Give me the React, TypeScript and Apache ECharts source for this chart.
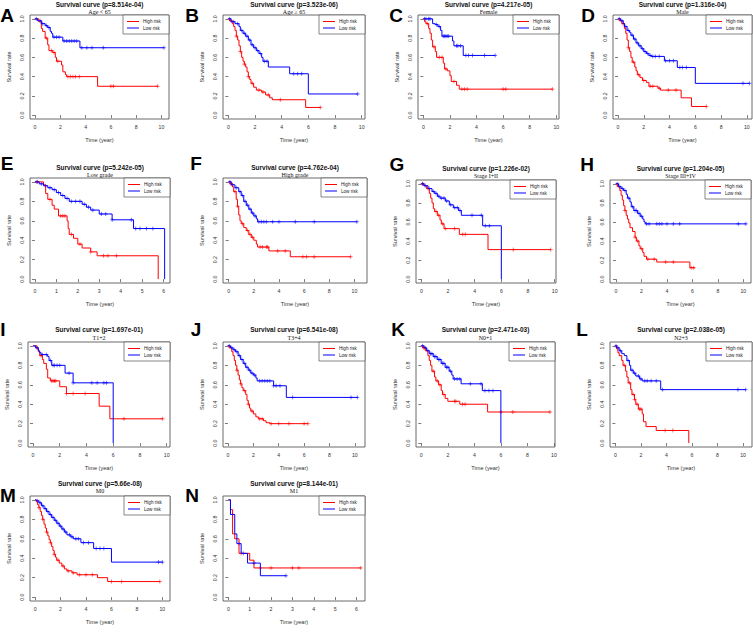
import { useEffect, useRef } from "react";
import * as echarts from "echarts";

// ---------- tick labels ----------
const timeTicks10 = [0, 2, 4, 6, 8, 10];
const timeTicks6 = [0, 1, 2, 3, 4, 5, 6];
const survTicks = [0, 0.2, 0.4, 0.6, 0.8, 1.0];

// ---------- panel texts ----------
const letters = ["A", "B", "C", "D", "E", "F", "G", "H", "I", "J", "K", "L", "M", "N"];
const pValues = ["8.514e-04", "3.523e-06", "4.217e-05", "1.316e-04", "5.242e-05", "4.762e-04", "1.226e-02", "1.204e-05", "1.697e-01", "6.541e-08", "2.471e-03", "2.038e-05", "5.66e-08", "8.144e-01"];
const subtitles = ["Age < 65", "Age \u2265 65", "Female", "Male", "Low grade", "High grade", "Stage I+II", "Stage III+IV", "T1+2", "T3+4", "N0+1", "N2+3", "M0", "M1"];
const groups = ["High risk", "Low risk"];

// ---------- survival curves: [time, survival] at each step ----------
const aHigh = [[0,1],[0.3,0.97],[0.5,0.9],[0.6,0.87],[0.8,0.8],[1.0,0.73],[1.1,0.67],[1.4,0.65],[1.6,0.6],[1.7,0.56],[2.1,0.52],[2.2,0.45],[2.4,0.42],[2.5,0.4],[4.95,0.3],[9.7,0.3]];
const aHighCens = [0.9,1.3,1.5,1.8,2.6,2.8,3.0,3.2,3.5,6.0,6.2,9.7];
const aLow = [[0,1],[0.2,0.98],[0.5,0.95],[0.8,0.93],[1.0,0.91],[1.2,0.87],[1.3,0.85],[1.4,0.81],[2.2,0.77],[3.55,0.7],[10.2,0.7]];
const aLowCens = [0.1,0.4,0.6,0.9,1.1,1.5,1.7,1.9,2.3,2.5,2.7,2.9,3.1,3.3,3.7,4.1,4.5,5.4,10.2];

const bHigh = [[0,1],[0.1,0.98],[0.3,0.95],[0.4,0.92],[0.5,0.88],[0.6,0.82],[0.7,0.78],[0.8,0.72],[0.9,0.66],[1.0,0.6],[1.1,0.56],[1.2,0.53],[1.3,0.5],[1.4,0.45],[1.5,0.4],[1.6,0.37],[1.7,0.33],[1.9,0.29],[2.1,0.26],[2.5,0.24],[2.8,0.21],[3.1,0.18],[3.3,0.16],[5.8,0.08],[6.9,0.08]];
const bHighCens = [0.2,0.6,0.9,1.2,1.5,1.8,2.3,2.6,3.0,3.9,6.9];
const bLow = [[0,1],[0.2,0.97],[0.5,0.95],[0.8,0.92],[0.9,0.88],[1.1,0.85],[1.3,0.82],[1.5,0.78],[1.7,0.73],[1.9,0.7],[2.1,0.67],[2.3,0.64],[2.5,0.6],[2.6,0.56],[3.0,0.5],[4.6,0.43],[6.0,0.22],[9.7,0.22]];
const bLowCens = [0.1,0.4,0.7,1.0,1.2,1.4,1.6,1.8,2.0,2.2,2.4,2.7,2.9,4.9,5.2,5.5,9.7];

const cHigh = [[0,1],[0.1,0.97],[0.2,0.95],[0.4,0.9],[0.5,0.85],[0.6,0.78],[0.7,0.71],[0.9,0.66],[1.0,0.6],[1.5,0.54],[1.6,0.48],[1.8,0.46],[2.0,0.41],[2.1,0.35],[2.5,0.31],[2.7,0.27],[9.7,0.27]];
const cHighCens = [0.3,0.8,1.2,1.4,1.7,2.3,2.9,3.1,3.3,6.0,6.2,9.7];
const cLow = [[0,1],[0.7,0.95],[0.9,0.94],[1.1,0.92],[1.3,0.88],[1.4,0.82],[2.2,0.77],[2.3,0.72],[3.0,0.62],[5.4,0.62]];
const cLowCens = [0.1,0.2,0.4,0.5,1.0,1.2,1.5,1.6,1.7,1.8,1.9,2.5,2.6,2.8,3.2,3.4,3.7,4.6,5.4];

const dHigh = [[0,1],[0.1,0.98],[0.3,0.95],[0.5,0.9],[0.6,0.85],[0.7,0.78],[0.8,0.7],[0.9,0.66],[1.0,0.6],[1.1,0.55],[1.3,0.5],[1.4,0.46],[1.5,0.42],[1.7,0.39],[1.9,0.36],[2.2,0.34],[2.4,0.3],[3.1,0.28],[3.3,0.26],[4.9,0.18],[5.7,0.09],[6.85,0.09]];
const dHighCens = [0.4,0.8,1.2,1.6,2.0,2.5,2.7,3.2,3.9,4.5,6.85];
const dLow = [[0,1],[0.2,0.98],[0.4,0.95],[0.5,0.92],[0.7,0.88],[0.9,0.86],[1.0,0.83],[1.2,0.79],[1.4,0.75],[1.6,0.72],[1.8,0.69],[2.0,0.66],[2.2,0.64],[2.4,0.62],[2.6,0.61],[3.6,0.565],[4.6,0.495],[6.0,0.33],[10.2,0.33]];
const dLowCens = [0.1,0.3,0.6,0.8,1.1,1.3,1.5,1.7,1.9,2.1,2.3,2.5,2.7,2.9,3.2,3.7,4.0,4.3,4.8,5.0,5.3,9.7,10.2];

const eHigh = [[0,1],[0.4,0.97],[0.5,0.88],[0.6,0.82],[0.8,0.76],[0.9,0.72],[1.1,0.65],[1.5,0.6],[1.55,0.52],[1.6,0.46],[1.8,0.42],[2.0,0.36],[2.2,0.32],[2.6,0.28],[2.9,0.24],[5.75,0]];
const eHighCens = [0.1,0.7,1.2,1.3,1.4,1.7,2.1,2.6,3.2,3.4,3.8];
const eLow = [[0,1],[0.2,0.98],[0.4,0.96],[0.6,0.94],[0.8,0.92],[1.0,0.89],[1.2,0.86],[1.4,0.83],[1.6,0.8],[2.2,0.77],[2.4,0.74],[2.6,0.71],[3.0,0.67],[3.6,0.61],[4.6,0.52],[6.05,0]];
const eLowCens = [0.1,0.3,0.5,0.7,0.9,1.1,1.3,1.5,1.7,1.9,2.1,2.3,2.5,2.7,3.1,3.3,3.6,4.5,4.7,4.9,5.2,5.5];

const fHigh = [[0,1],[0.1,0.98],[0.3,0.95],[0.4,0.9],[0.6,0.82],[0.7,0.75],[0.8,0.66],[0.9,0.6],[1.0,0.57],[1.2,0.53],[1.4,0.5],[1.6,0.46],[1.8,0.43],[2.0,0.4],[2.2,0.36],[2.3,0.33],[3.2,0.29],[4.9,0.23],[9.7,0.23]];
const fHighCens = [0.2,0.5,0.7,1.1,1.5,1.7,1.9,2.5,2.7,3.0,3.1,3.9,4.5,5.9,6.2,6.8,9.7];
const fLow = [[0,1],[0.2,0.97],[0.5,0.94],[0.8,0.9],[1.0,0.86],[1.2,0.8],[1.4,0.76],[1.6,0.72],[1.8,0.68],[2.0,0.65],[2.2,0.62],[2.3,0.59],[10.2,0.59]];
const fLowCens = [0.1,0.3,0.6,0.9,1.1,1.3,1.5,1.7,1.9,2.1,2.4,2.6,2.8,3.0,3.5,4.0,5.3,6.8,10.2];

const gHigh = [[0,1],[0.2,0.98],[0.4,0.95],[0.6,0.9],[0.7,0.85],[0.8,0.8],[0.9,0.74],[1.0,0.71],[1.2,0.67],[1.4,0.62],[1.5,0.58],[1.7,0.53],[2.85,0.47],[5.0,0.31],[9.7,0.31]];
const gHighCens = [0.1,0.5,1.1,1.3,1.6,1.8,2.5,3.1,3.3,6.9,9.7];
const gLow = [[0,1],[0.2,0.98],[0.5,0.95],[0.8,0.92],[1.0,0.9],[1.2,0.87],[1.4,0.85],[1.8,0.82],[2.1,0.78],[2.4,0.75],[2.8,0.72],[3.0,0.67],[4.6,0.56],[6.0,0]];
const gLowCens = [0.1,0.3,0.6,0.9,1.1,1.3,1.5,1.7,1.9,2.2,2.5,2.7,2.9,3.8,4.5,4.8,5.1];

const hHigh = [[0,1],[0.1,0.97],[0.3,0.93],[0.4,0.88],[0.5,0.83],[0.6,0.77],[0.7,0.72],[0.8,0.67],[0.9,0.63],[1.0,0.59],[1.1,0.54],[1.3,0.5],[1.5,0.44],[1.6,0.4],[1.8,0.35],[1.9,0.32],[2.1,0.28],[2.2,0.24],[2.4,0.21],[3.2,0.18],[5.8,0.12],[6.2,0.12]];
const hHighCens = [0.7,1.5,1.7,2.0,2.5,3.0,3.9,4.5,5.9,6.1];
const hLow = [[0,1],[0.2,0.97],[0.4,0.95],[0.6,0.93],[0.8,0.89],[0.9,0.85],[1.1,0.81],[1.2,0.76],[1.4,0.72],[1.7,0.69],[1.9,0.66],[2.1,0.63],[2.2,0.6],[2.3,0.58],[10.2,0.58]];
const hLowCens = [0.1,0.3,0.5,0.7,1.0,1.3,1.5,1.6,1.8,2.0,2.4,2.6,3.2,3.4,3.6,4.0,4.5,5.0,9.6,10.2];

const iHigh = [[0,1],[0.3,0.97],[0.4,0.94],[0.5,0.9],[0.7,0.86],[0.8,0.82],[1.0,0.76],[1.1,0.67],[1.3,0.64],[2.0,0.58],[2.5,0.51],[4.95,0.38],[5.75,0.25],[9.7,0.25]];
const iHighCens = [0.6,1.4,1.5,1.6,1.7,2.5,3.0,3.9,6.8,9.7];
const iLow = [[0,1],[0.2,0.98],[0.4,0.95],[0.5,0.93],[0.6,0.91],[1.1,0.89],[1.2,0.85],[1.4,0.8],[2.4,0.72],[3.0,0.62],[6.0,0]];
const iLowCens = [0.3,0.7,1.0,1.3,1.5,1.6,1.8,2.0,2.7,3.0,4.4,4.8,5.3,5.5];

const jHigh = [[0,1],[0.1,0.98],[0.3,0.94],[0.4,0.9],[0.5,0.85],[0.6,0.8],[0.7,0.75],[0.8,0.7],[0.9,0.65],[1.0,0.61],[1.1,0.57],[1.2,0.54],[1.4,0.5],[1.5,0.44],[1.6,0.4],[1.7,0.36],[1.8,0.33],[2.0,0.3],[2.2,0.27],[2.4,0.25],[2.8,0.23],[3.0,0.21],[3.3,0.2],[6.3,0.2]];
const jHighCens = [0.7,1.0,1.3,1.6,1.9,2.5,2.7,3.4,4.0,4.8,6.0,6.3];
const jLow = [[0,1],[0.2,0.98],[0.4,0.96],[0.6,0.94],[0.8,0.9],[1.0,0.86],[1.2,0.82],[1.4,0.78],[1.6,0.75],[1.8,0.72],[2.0,0.7],[2.2,0.67],[2.3,0.64],[3.6,0.59],[4.6,0.47],[10.2,0.47]];
const jLowCens = [0.1,0.3,0.5,0.7,0.9,1.1,1.3,1.5,1.7,1.9,2.1,2.5,2.7,2.9,3.1,3.3,3.6,3.8,4.1,5.1,9.7,10.2];

const kHigh = [[0,1],[0.1,0.98],[0.3,0.95],[0.5,0.9],[0.6,0.85],[0.7,0.8],[0.8,0.74],[1.0,0.68],[1.1,0.64],[1.3,0.6],[1.5,0.54],[1.6,0.5],[1.8,0.46],[2.0,0.43],[2.9,0.4],[5.0,0.32],[9.7,0.32]];
const kHighCens = [0.2,0.9,1.2,1.4,1.7,2.5,2.6,3.1,3.3,6.0,6.9,9.7];
const kLow = [[0,1],[0.2,0.98],[0.4,0.95],[0.6,0.92],[0.9,0.89],[1.2,0.86],[1.5,0.82],[1.8,0.78],[2.1,0.74],[2.3,0.7],[2.4,0.66],[3.0,0.61],[4.6,0.54],[6.0,0]];
const kLowCens = [0.1,0.3,0.5,0.7,0.8,1.0,1.1,1.3,1.4,1.6,1.7,1.9,2.0,2.2,2.5,2.7,2.9,3.7,4.5,4.8,5.1,5.4];

const lHigh = [[0,1],[0.1,0.97],[0.2,0.93],[0.3,0.9],[0.5,0.85],[0.6,0.8],[0.8,0.74],[0.9,0.68],[1.0,0.62],[1.2,0.55],[1.3,0.5],[1.5,0.45],[1.6,0.4],[1.8,0.35],[2.1,0.3],[2.2,0.22],[2.4,0.17],[3.2,0.13],[5.75,0]];
const lHighCens = [0.7,1.1,1.4,1.5,1.7,1.9,2.0,3.9,4.5];
const lLow = [[0,1],[0.1,0.98],[0.3,0.95],[0.5,0.92],[0.7,0.9],[0.9,0.85],[1.1,0.8],[1.2,0.75],[1.4,0.72],[1.6,0.69],[1.9,0.66],[2.1,0.64],[3.55,0.55],[10.2,0.55]];
const lLowCens = [0.05,0.2,0.4,1.0,1.3,1.5,1.8,2.0,2.3,2.5,2.8,3.2,3.7,9.6,10.2];

const mHigh = [[0,1],[0.1,0.98],[0.2,0.95],[0.3,0.92],[0.4,0.88],[0.5,0.84],[0.6,0.8],[0.7,0.75],[0.8,0.71],[0.9,0.67],[1.0,0.63],[1.1,0.59],[1.2,0.56],[1.3,0.52],[1.4,0.48],[1.5,0.44],[1.6,0.41],[1.7,0.38],[1.9,0.35],[2.1,0.32],[2.3,0.29],[2.5,0.27],[2.9,0.25],[3.3,0.23],[4.9,0.2],[5.7,0.16],[9.8,0.16]];
const mHighCens = [0.3,0.6,0.9,1.2,1.5,1.8,2.2,2.6,3.0,3.5,4.0,4.5,6.0,6.8,9.8];
const mLow = [[0,1],[0.1,0.99],[0.3,0.97],[0.5,0.94],[0.7,0.91],[0.9,0.88],[1.1,0.85],[1.3,0.82],[1.5,0.79],[1.7,0.76],[1.9,0.73],[2.1,0.7],[2.3,0.67],[2.5,0.64],[2.8,0.62],[3.0,0.6],[3.6,0.56],[4.6,0.5],[6.0,0.36],[10.0,0.36]];
const mLowCens = [0.2,0.4,0.6,0.8,1.0,1.2,1.4,1.6,1.8,2.0,2.2,2.4,2.7,2.9,3.2,3.4,3.8,4.2,4.8,5.1,5.4,9.7,10.0];

const nHigh = [[0,1],[0.1,0.9],[0.2,0.65],[0.3,0.6],[0.5,0.45],[1.0,0.38],[1.2,0.3],[6.2,0.3]];
const nHighCens = [0.6,1.5,2.0,3.0,3.3,6.2];
const nLow = [[0,1],[0.1,0.85],[0.3,0.65],[0.4,0.55],[0.6,0.45],[0.9,0.35],[1.5,0.22],[2.7,0.22]];
const nLowCens = [0.2,0.5,0.7,1.2,2.7];

const highCurves = [aHigh, bHigh, cHigh, dHigh, eHigh, fHigh, gHigh, hHigh, iHigh, jHigh, kHigh, lHigh, mHigh, nHigh];
const highCens = [aHighCens, bHighCens, cHighCens, dHighCens, eHighCens, fHighCens, gHighCens, hHighCens, iHighCens, jHighCens, kHighCens, lHighCens, mHighCens, nHighCens];
const lowCurves = [aLow, bLow, cLow, dLow, eLow, fLow, gLow, hLow, iLow, jLow, kLow, lLow, mLow, nLow];
const lowCens = [aLowCens, bLowCens, cLowCens, dLowCens, eLowCens, fLowCens, gLowCens, hLowCens, iLowCens, jLowCens, kLowCens, lLowCens, mLowCens, nLowCens];
const xMaxTicks = [10, 10, 10, 10, 6, 10, 10, 10, 10, 10, 10, 10, 10, 6];

// ---------- layout (page px): box left, top, right, bottom, x-range, title y, subtitle y, letter x, letter y ----------
const layout = [
  [30, 15, 169, 119, -0.4, 10.6, 4, 12, 7, 15],
  [223, 15, 365, 119, -0.4, 10.25, 4, 12, 192, 15],
  [418, 15, 559, 119, -0.4, 10.2, 4, 12, 396, 15],
  [613, 15, 752, 119, -0.39, 10.4, 4, 12, 588, 15],
  [30, 178, 170, 283, -0.23, 6.3, 167, 175, 7, 163],
  [223, 178, 367, 283, -0.45, 11, 167, 175, 196, 163],
  [416, 180, 556, 283, -0.4, 10.1, 168, 176, 397, 164],
  [610, 180, 751, 283, -0.47, 10.6, 168, 176, 587, 164],
  [28, 342, 170, 447, -0.375, 10.25, 329, 338, 3, 329],
  [223, 342, 365, 447, -0.39, 10.8, 329, 338, 196, 329],
  [416, 342, 555, 447, -0.4, 10.08, 329, 338, 398, 329],
  [610, 342, 752, 447, -0.42, 10.7, 329, 338, 582, 329],
  [30, 496, 170, 601, -0.4, 10.6, 483, 491, 8, 495],
  [223, 496, 365, 601, -0.25, 6.4, 483, 491, 192, 495],
];

const RED = "#ff0000";
const BLUE = "#0000ff";
const SANS = "'Liberation Sans', Arial, sans-serif";
const SERIF = "'Liberation Serif', 'Times New Roman', serif";

function survAt(curve: number[][], t: number) {
  let s = 1;
  for (const [ti, si] of curve) {
    if (ti <= t) s = si;
    else break;
  }
  return s;
}

function buildOption() {
  const grid: any[] = [];
  const xAxis: any[] = [];
  const yAxis: any[] = [];
  const series: any[] = [];
  const graphic: any[] = [];
  const plus = "path://M5,0 L5,10 M0,5 L10,5";

  layout.forEach((lay, i) => {
    const [l, t, r, b, xmin, xmax, ty, sy, lx, ly] = lay;
    grid.push({
      left: l, top: t, width: r - l, height: b - t,
      show: true, borderColor: "#444", borderWidth: 0.8, backgroundColor: "transparent",
    });
    const ticks = xMaxTicks[i] === 6 ? timeTicks6 : timeTicks10;
    xAxis.push({
      type: "value", gridIndex: i, min: xmin, max: xmax,
      splitLine: { show: false },
      axisLine: { show: false },
      axisTick: { show: true, length: 3, lineStyle: { color: "#444", width: 0.7 }, customValues: ticks },
      axisLabel: { fontSize: 5.2, color: "#333", fontFamily: SANS, margin: 5, customValues: ticks },
      name: "Time (year)", nameLocation: "middle", nameGap: 18,
      nameTextStyle: { fontSize: 5.6, color: "#333", fontFamily: SANS },
    });
    yAxis.push({
      type: "value", gridIndex: i, min: -0.04, max: 1.04,
      splitLine: { show: false },
      axisLine: { show: false },
      axisTick: { show: true, length: 3, lineStyle: { color: "#444", width: 0.7 }, customValues: survTicks },
      axisLabel: { fontSize: 5.2, color: "#333", fontFamily: SANS, margin: 6, rotate: 90, customValues: survTicks,
        formatter: (v: number) => v.toFixed(1) },
      name: "Survival rate", nameLocation: "middle", nameGap: 18,
      nameTextStyle: { fontSize: 5.6, color: "#333", fontFamily: SANS },
    });

    const curves = [highCurves[i], lowCurves[i]];
    const cens = [highCens[i], lowCens[i]];
    const colors = [RED, BLUE];
    curves.forEach((c, k) => {
      series.push({
        type: "line", name: groups[k], xAxisIndex: i, yAxisIndex: i, step: "end",
        data: c, showSymbol: false, symbol: "none", silent: true,
        lineStyle: { color: colors[k], width: 1 },
      });
      series.push({
        type: "scatter", name: groups[k], xAxisIndex: i, yAxisIndex: i,
        data: cens[k].map((tt) => [tt, survAt(c, tt)]),
        symbol: plus, symbolSize: 4, silent: true,
        itemStyle: { color: "rgba(0,0,0,0)", borderColor: colors[k], borderWidth: 0.7 },
      });
    });

    const cx = (l + r) / 2;
    graphic.push({
      type: "text", x: lx, y: ly,
      style: { text: letters[i], fontSize: 19, fontWeight: "bold", fontFamily: SANS, fill: "#000", align: "center", verticalAlign: "middle" },
    });
    graphic.push({
      type: "text", x: cx, y: ty,
      style: { text: `Survival curve (p=${pValues[i]})`, fontSize: 6.5, fontWeight: "bold", fontFamily: SANS, fill: "#111", align: "center", verticalAlign: "middle" },
    });
    graphic.push({
      type: "text", x: cx, y: sy,
      style: { text: subtitles[i], fontSize: 6, fontFamily: SERIF, fill: "#111", align: "center", verticalAlign: "middle" },
    });
    const lw = 46, lh = 19;
    const lxl = r - lw;
    const lyt = t;
    graphic.push({
      type: "rect", shape: { x: lxl, y: lyt, width: lw, height: lh },
      style: { fill: "#fff", stroke: "#555", lineWidth: 0.7 },
    });
    groups.forEach((g, k) => {
      const yy = lyt + 6.5 + k * 6.5;
      graphic.push({
        type: "line", shape: { x1: lxl + 4, y1: yy, x2: lxl + 16, y2: yy },
        style: { stroke: colors[k], lineWidth: 1 },
      });
      graphic.push({
        type: "text", x: lxl + 20, y: yy,
        style: { text: g, fontSize: 4.6, fontFamily: SANS, fill: "#222", align: "left", verticalAlign: "middle" },
      });
    });
  });

  return { animation: false, backgroundColor: "#fff", grid, xAxis, yAxis, series, graphic };
}

export default function App() {
  const ref = useRef<HTMLDivElement>(null);
  useEffect(() => {
    if (!ref.current) return;
    const chart = echarts.init(ref.current, undefined, { renderer: "svg" });
    chart.setOption(buildOption() as any);
    return () => chart.dispose();
  }, []);
  return <div ref={ref} style={{ position: "absolute", left: 0, top: 0, width: 753, height: 636 }} />;
}
